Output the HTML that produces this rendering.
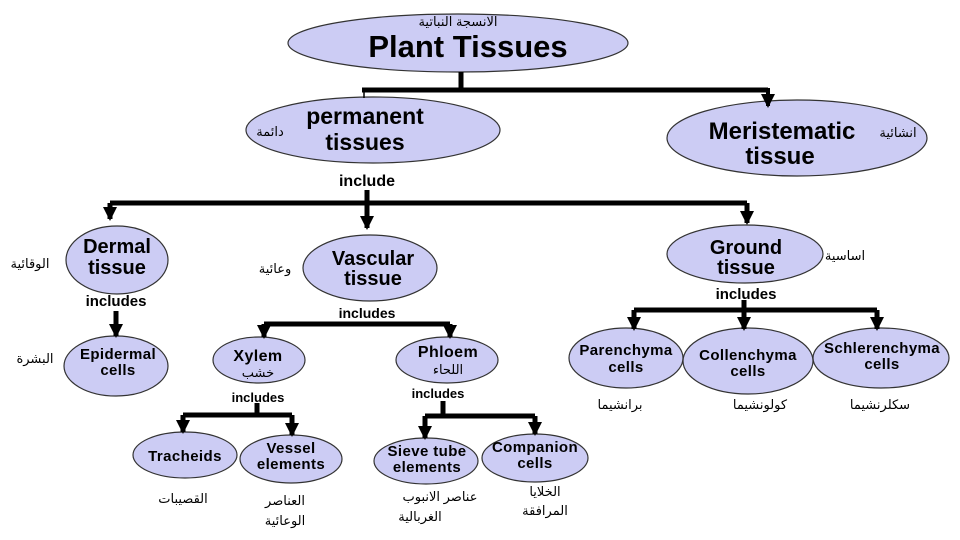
<!DOCTYPE html>
<html><head><meta charset="utf-8"><style>
html,body{margin:0;padding:0;background:#fff;}
svg{display:block;}
text{font-family:"Liberation Sans","DejaVu Sans",sans-serif;fill:#000;text-anchor:middle;}
.b{font-weight:bold;}
.ar{font-size:13px;font-weight:normal;}
.s{font-weight:bold;font-size:15px;letter-spacing:0.4px;}
</style></head><body>
<svg width="960" height="540" viewBox="0 0 960 540" xmlns="http://www.w3.org/2000/svg">
<defs>
<marker id="a" markerUnits="userSpaceOnUse" markerWidth="14" markerHeight="14" refX="12" refY="7" orient="auto" viewBox="0 0 14 14">
<path d="M0,0 L14,7 L0,14 Z" fill="#000"/>
</marker>
</defs>
<g fill="#ccccf4" stroke="#333" stroke-width="1.2">
<ellipse cx="458" cy="43" rx="170" ry="29"/>
<ellipse cx="373" cy="130" rx="127" ry="33"/>
<ellipse cx="797" cy="138" rx="130" ry="38"/>
<ellipse cx="117" cy="260" rx="51" ry="34"/>
<ellipse cx="370" cy="268" rx="67" ry="33"/>
<ellipse cx="745" cy="254" rx="78" ry="29"/>
<ellipse cx="116" cy="366" rx="52" ry="30"/>
<ellipse cx="259" cy="360" rx="46" ry="23"/>
<ellipse cx="447" cy="360" rx="51" ry="23"/>
<ellipse cx="626" cy="358" rx="57" ry="30"/>
<ellipse cx="748" cy="361" rx="65" ry="33"/>
<ellipse cx="881" cy="358" rx="68" ry="30"/>
<ellipse cx="185" cy="455" rx="52" ry="23"/>
<ellipse cx="291" cy="459" rx="51" ry="24"/>
<ellipse cx="426" cy="461" rx="52" ry="23"/>
<ellipse cx="535" cy="458" rx="53" ry="24"/>
</g>
<g stroke="#000" stroke-width="5" fill="none">
<line x1="461" y1="72" x2="461" y2="90"/>
<polyline points="362,90 768,90"/>
<line x1="367" y1="190" x2="367" y2="228" marker-end="url(#a)"/>
<polyline points="110,203 747,203"/>
<line x1="110" y1="203" x2="110" y2="219" marker-end="url(#a)"/>
<line x1="747" y1="203" x2="747" y2="223" marker-end="url(#a)"/>
<line x1="116" y1="311" x2="116" y2="336" marker-end="url(#a)"/>
<polyline points="264,324 450,324"/>
<line x1="264" y1="324" x2="264" y2="337" marker-end="url(#a)"/>
<line x1="450" y1="324" x2="450" y2="337" marker-end="url(#a)"/>
<line x1="257" y1="403" x2="257" y2="415"/>
<polyline points="183,415 292,415"/>
<line x1="183" y1="415" x2="183" y2="432" marker-end="url(#a)"/>
<line x1="292" y1="415" x2="292" y2="435" marker-end="url(#a)"/>
<line x1="443" y1="401" x2="443" y2="416"/>
<polyline points="425,416 535,416"/>
<line x1="425" y1="416" x2="425" y2="438" marker-end="url(#a)"/>
<line x1="535" y1="416" x2="535" y2="434" marker-end="url(#a)"/>
<line x1="744" y1="300" x2="744" y2="310"/>
<polyline points="634,310 877,310"/>
<line x1="634" y1="310" x2="634" y2="329" marker-end="url(#a)"/>
<line x1="744" y1="310" x2="744" y2="329" marker-end="url(#a)"/>
<line x1="877" y1="310" x2="877" y2="329" marker-end="url(#a)"/>
</g>
<line x1="768" y1="88" x2="768" y2="106" stroke="#000" stroke-width="4" marker-end="url(#a)"/>
<line x1="364" y1="90" x2="364" y2="98" stroke="#000" stroke-width="1.5"/>

<text x="458" y="26" class="ar">الانسجة النباتية</text>
<text x="468" y="57" class="b" style="font-size:31px">Plant Tissues</text>
<text x="365" y="124" class="b" style="font-size:23px">permanent</text>
<text x="365" y="150" class="b" style="font-size:23px">tissues</text>
<text x="270" y="136" class="ar">دائمة</text>
<text x="782" y="139" class="b" style="font-size:24px">Meristematic</text>
<text x="780" y="164" class="b" style="font-size:24px">tissue</text>
<text x="898" y="137" class="ar">انشائية</text>
<text x="367" y="186" class="b" style="font-size:16px">include</text>

<text x="117" y="253" class="b" style="font-size:20px">Dermal</text>
<text x="117" y="274" class="b" style="font-size:20px">tissue</text>
<text x="30" y="268" class="ar">الوقائية</text>
<text x="373" y="265" class="b" style="font-size:20px">Vascular</text>
<text x="373" y="285" class="b" style="font-size:20px">tissue</text>
<text x="275" y="273" class="ar">وعائية</text>
<text x="746" y="254" class="b" style="font-size:20px">Ground</text>
<text x="746" y="274" class="b" style="font-size:20px">tissue</text>
<text x="845" y="260" class="ar">اساسية</text>

<text x="116" y="306" class="b" style="font-size:15px">includes</text>
<text x="367" y="318" class="b" style="font-size:14px">includes</text>
<text x="746" y="299" class="b" style="font-size:15px">includes</text>

<text x="118" y="359" class="s">Epidermal</text>
<text x="118" y="375" class="s">cells</text>
<text x="35" y="363" class="ar">البشرة</text>
<text x="258" y="361" class="s" style="font-size:16px">Xylem</text>
<text x="258" y="377" class="ar">خشب</text>
<text x="448" y="357" class="s" style="font-size:16px">Phloem</text>
<text x="448" y="374" class="ar">اللحاء</text>
<text x="626" y="355" class="s">Parenchyma</text>
<text x="626" y="372" class="s">cells</text>
<text x="748" y="360" class="s">Collenchyma</text>
<text x="748" y="376" class="s">cells</text>
<text x="882" y="353" class="s">Schlerenchyma</text>
<text x="882" y="369" class="s">cells</text>
<text x="620" y="409" class="ar">برانشيما</text>
<text x="760" y="409" class="ar">كولونشيما</text>
<text x="880" y="409" class="ar">سكلرنشيما</text>

<text x="258" y="402" class="b" style="font-size:13px">includes</text>
<text x="438" y="398" class="b" style="font-size:13px">includes</text>

<text x="185" y="461" class="s">Tracheids</text>
<text x="183" y="503" class="ar">القصيبات</text>
<text x="291" y="453" class="s">Vessel</text>
<text x="291" y="469" class="s">elements</text>
<text x="285" y="505" class="ar">العناصر</text>
<text x="285" y="525" class="ar">الوعائية</text>
<text x="427" y="456" class="s">Sieve tube</text>
<text x="427" y="472" class="s">elements</text>
<text x="440" y="501" class="ar">عناصر الانبوب</text>
<text x="420" y="521" class="ar">الغربالية</text>
<text x="535" y="452" class="s">Companion</text>
<text x="535" y="468" class="s">cells</text>
<text x="545" y="496" class="ar">الخلايا</text>
<text x="545" y="515" class="ar">المرافقة</text>
</svg>
</body></html>
